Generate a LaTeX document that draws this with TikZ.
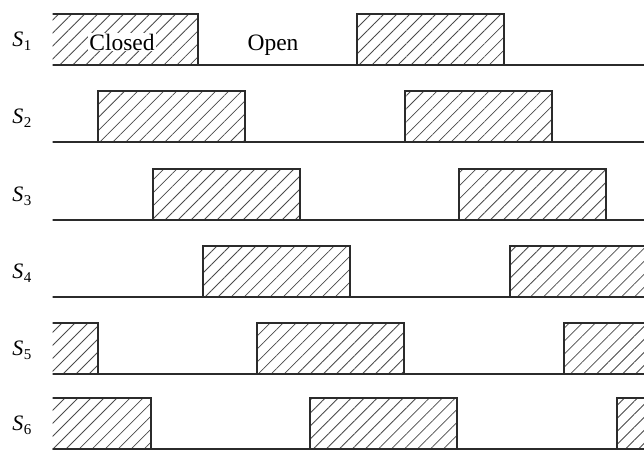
\documentclass[tikz,border=0pt]{standalone}
\usepackage{fontspec}
\setmainfont{Liberation Serif}
\usetikzlibrary{patterns.meta}
\definecolor{Ink}{HTML}{2B2B2B}
\definecolor{Hatch}{HTML}{4A4A4A}
\newcommand{\swname}[1]{\textit{S}\kern0.5pt\raisebox{-0.45ex}{\fontsize{15}{15}\selectfont #1}}

\begin{document}
\begin{tikzpicture}[x=1pt,y=-1pt,
  wave/.style={Ink,line width=1.6pt},
  pulsefill/.style={pattern={Lines[angle=45,distance=9.2pt,line width=0.8pt]},pattern color=Hatch},
  swlabel/.style={font=\fontsize{22}{25}\selectfont,anchor=base,inner sep=0pt},
  statelabel/.style={font=\fontsize{23.5}{27}\selectfont,anchor=base,inner sep=1pt}]
  \useasboundingbox (0,0) rectangle (644,450);
  % switch signals, one row each: baseline and rising edges
  \foreach \r/\base/\starts in {1/65/{51,357}, 2/142/{98,405}, 3/220/{153,459},
                                4/297/{203,510}, 5/374/{-49,257,564}, 6/449/{4,310,617}} {
    \node[swlabel] (s\r) at (22,\base-19) {\swname{\r}};
    \begin{scope}
      \clip (52.5,0) rectangle (644,452);
      \foreach \s in \starts {
        \fill[pulsefill] (\s,\base-51) rectangle ++(147,51);
        \draw[wave] (\s,\base) -- (\s,\base-51) -- (\s+147,\base-51) -- (\s+147,\base);
      }
      \draw[wave] (52,\base) -- (644,\base);
    \end{scope}
  }
  \node[statelabel,fill=white] (closed) at (122,50) {Closed};
  \node[statelabel] (open) at (273,50) {Open};
\end{tikzpicture}
\end{document}
